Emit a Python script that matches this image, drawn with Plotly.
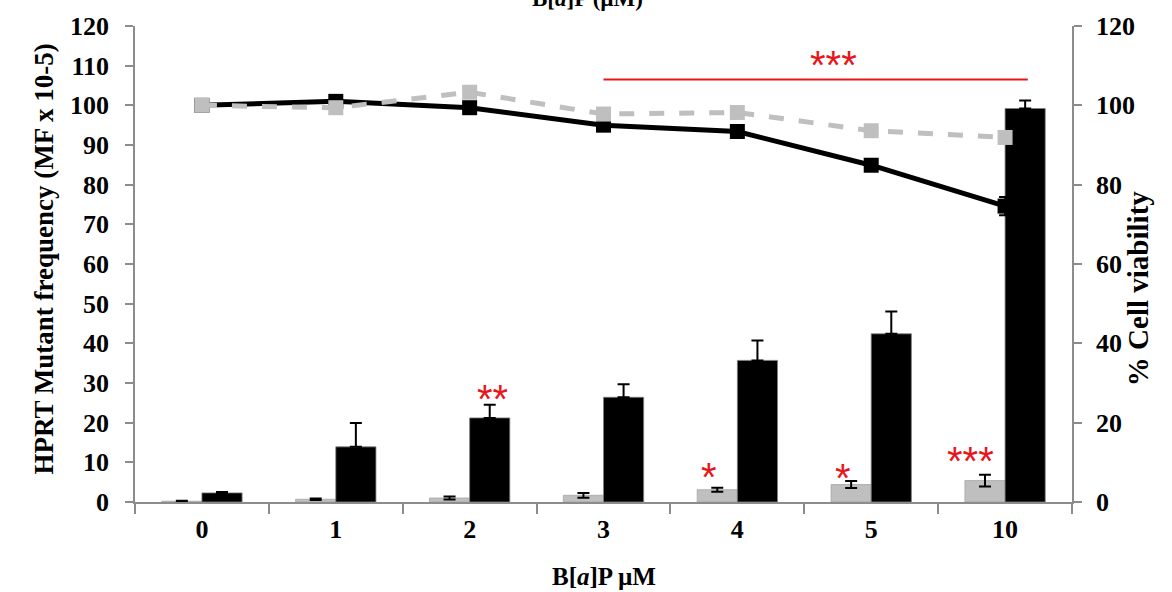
import plotly.graph_objects as go

# Benzo[a]pyrene dose groups (µM)
doses = ["0", "1", "2", "3", "4", "5", "10"]

# HPRT mutant frequency (MF x 10-5), two conditions
mf_grey = [0.2, 0.7, 1.0, 1.7, 3.1, 4.4, 5.4]
mf_grey_err = [0.1, 0.2, 0.4, 0.6, 0.5, 0.9, 1.5]
mf_black = [2.3, 13.9, 21.2, 26.4, 35.7, 42.4, 99.2]
mf_black_err = [0.2, 6.0, 3.3, 3.3, 5.0, 5.6, 2.0]

# % cell viability for the same groups
via_black = [100.0, 101.0, 99.4, 95.0, 93.4, 84.9, 74.6]
via_black_err = [0, 0, 0, 0, 0, 0, 2.3]
via_grey = [100.0, 99.4, 103.3, 97.8, 98.2, 93.6, 91.9]

# Significance marks: (label, category position, MF-axis height)
sig_marks = [
    ("**", 2.17, 28.1),
    ("*", 3.79, 8.3),
    ("*", 4.79, 8.0),
    ("***", 5.74, 12.3),
    ("***", 4.72, 112.2),
]
bracket_y = 106.5

GREY = "#bfbfbf"
AXIS = "#8c8c8c"
SERIF = "Liberation Serif"

fig = go.Figure()

fig.add_trace(go.Bar(
    x=doses, y=mf_grey, marker=dict(color=GREY, line=dict(color="#a6a6a6", width=0.8)),
    error_y=dict(type="data", array=mf_grey_err, color="black", thickness=2, width=6),
    yaxis="y", showlegend=False,
))
fig.add_trace(go.Bar(
    x=doses, y=mf_black, marker=dict(color="black", line=dict(color="#7f7f7f", width=0.8)),
    error_y=dict(type="data", array=mf_black_err, symmetric=False,
                 arrayminus=[0] * len(mf_black_err), color="black", thickness=2, width=6),
    yaxis="y", showlegend=False,
))
fig.add_trace(go.Scatter(
    x=doses, y=via_black, mode="lines+markers", yaxis="y2",
    line=dict(color="black", width=5),
    marker=dict(symbol="square", size=15, color="black"),
    error_y=dict(type="data", array=via_black_err, color="black", thickness=2, width=6),
    showlegend=False,
))
fig.add_trace(go.Scatter(
    x=doses, y=via_grey, mode="lines+markers", yaxis="y2",
    line=dict(color=GREY, width=5, dash="dash"),
    marker=dict(symbol="square", size=15, color=GREY),
    showlegend=False,
))

tickfont = dict(family=SERIF, size=26, color="black", weight="bold")

fig.update_layout(
    width=1172, height=592,
    margin=dict(l=135, r=100, t=24, b=90),
    paper_bgcolor="white", plot_bgcolor="white",
    barmode="group", bargap=0.4, bargroupgap=0.0,
    font=dict(family=SERIF, color="black"),
    xaxis=dict(
        type="category", showline=True, linecolor=AXIS, linewidth=1.5,
        ticks="outside", tickson="boundaries", ticklen=10, tickcolor=AXIS, tickwidth=1.5,
        tickfont=tickfont, ticklabelstandoff=3, showgrid=False, zeroline=False,
    ),
    yaxis=dict(
        range=[0, 120], dtick=10, showline=True, linecolor=AXIS, linewidth=1.5,
        ticks="outside", ticklen=8, tickcolor=AXIS, tickwidth=1.5,
        tickfont=tickfont, ticklabelstandoff=11, showgrid=False, zeroline=False,
    ),
    yaxis2=dict(
        range=[0, 120], dtick=20, overlaying="y", side="right",
        showline=True, linecolor=AXIS, linewidth=1.5,
        ticks="outside", ticklen=8, tickcolor=AXIS, tickwidth=1.5,
        tickfont=tickfont, ticklabelstandoff=9, showgrid=False, zeroline=False,
    ),
)

# Axis titles
fig.add_annotation(text="HPRT Mutant frequency (MF x 10-5)", xref="paper", yref="paper",
                   x=-0.115, y=0.51, textangle=-90, showarrow=False,
                   font=dict(family=SERIF, size=27, color="black", weight="bold"))
fig.add_annotation(text="% Cell viability", xref="paper", yref="paper",
                   x=1.089, y=0.448, textangle=-90, showarrow=False,
                   font=dict(family=SERIF, size=29, color="black", weight="bold"))
fig.add_annotation(text="B[<i>a</i>]P µM", xref="paper", yref="paper",
                   x=0.5, y=-0.157, yanchor="middle", showarrow=False,
                   font=dict(family=SERIF, size=25, color="black", weight="bold"))
# Heading above the plot (runs off the top edge)
fig.add_annotation(text="B[<i>a</i>]P (µM)", xref="paper", yref="paper",
                   x=0.483, y=1.0, yshift=13, yanchor="bottom", showarrow=False,
                   font=dict(family=SERIF, size=23, color="black", weight="bold"))

# Significance bracket and stars
fig.add_shape(type="line", xref="x", yref="y", x0=3.0, x1=6.17, y0=bracket_y, y1=bracket_y,
              line=dict(color="#e8161b", width=2))
for label, xpos, ypos in sig_marks:
    fig.add_annotation(text=label, xref="x", yref="y", x=xpos, y=ypos, showarrow=False,
                       yanchor="middle", yshift=-8,
                       font=dict(family="Liberation Sans", size=40, color="#e8161b"))

fig.write_html("out.html")
